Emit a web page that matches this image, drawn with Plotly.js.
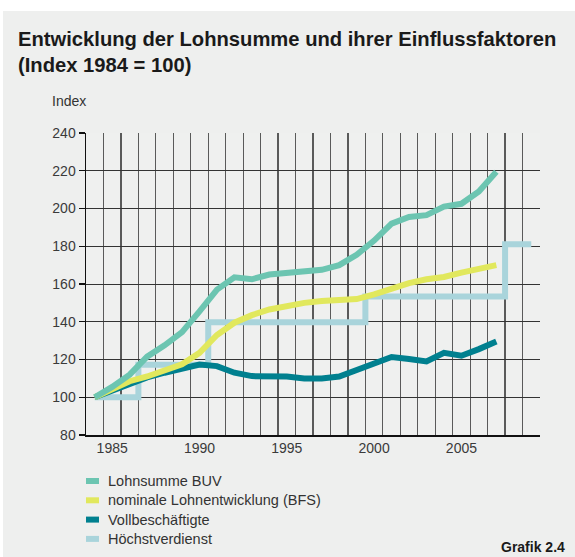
<!DOCTYPE html>
<html>
<head>
<meta charset="utf-8">
<script src="https://cdn.plot.ly/plotly-3.0.1.min.js"></script>
<style>
  html, body { margin: 0; padding: 0; background: #ffffff; }
  #bg { position: absolute; top: 11px; left: 3px; right: 0; bottom: 0; background: #eeefee; }
  #chart { position: absolute; top: 0; left: 0; width: 575px; height: 557px; }
</style>
</head>
<body>
<div id="bg"></div>
<div id="chart"></div>
<script>
// ---- data ----
const years = [1984,1985,1986,1987,1988,1989,1990,1991,1992,1993,1994,1995,1996,1997,1998,1999,2000,2001,2002,2003,2004,2005,2006,2007];
const lohnsummeBUV = [100,105.5,112,121.5,127.5,134.5,145.5,157,163.5,162.5,165,166,167,167.5,170,175.5,183,192,195.5,196.5,201,202.5,209,219.5];
const nominaleLohn = [100,104.5,108.5,111,114,117.5,123.5,133,139.5,143.5,146.5,148.5,150,151,151.5,152,154.5,157.5,160.5,162.5,163.7,166,168,170];
const vollbeschaeftigte = [100,103.5,107,110.5,113,115.5,117.3,116.5,113,111.2,111,111,110,110,111,114.5,118,121.3,120.3,119,123.5,122,125.5,129.5];
const hvYears = [1984,1985,1986,1987,1988,1989,1990,1991,1992,1993,1994,1995,1996,1997,1998,1999,2000,2001,2002,2003,2004,2005,2006,2007,2008,2009];
const hoechstverdienst = [100,100,100,117.2,117.2,117.2,117.2,139.7,139.7,139.7,139.7,139.7,139.7,139.7,139.7,139.7,153.4,153.4,153.4,153.4,153.4,153.4,153.4,153.4,181,181];
const seriesNames = ['Lohnsumme BUV','nominale Lohnentwicklung (BFS)','Vollbeschäftigte','Höchstverdienst'];
const seriesColors = ['#6cc5b1','#e1e85d','#00808f','#a9d4db'];
const xTickVals = [1985,1990,1995,2000,2005];
const xTickText = ['1985','1990','1995','2000','2005'];
const yTickVals = [80,100,120,140,160,180,200,220,240];

const FONT = 'Liberation Sans, Arial, Helvetica, sans-serif';
const W = 575, H = 557, ML = 86, MR = 35, MT = 133, MB = 122;
const PW = W - ML - MR, PH = H - MT - MB;
const px = v => (v - ML) / PW;          // page x -> paper x
const py = v => (H - MB - v) / PH;      // page y -> paper y

const traces = [
  {x: hvYears, y: hoechstverdienst, name: seriesNames[3], mode: 'lines', line: {color: seriesColors[3], width: 6, shape: 'hvh'}},
  {x: years, y: vollbeschaeftigte, name: seriesNames[2], mode: 'lines', line: {color: seriesColors[2], width: 6}},
  {x: years, y: nominaleLohn, name: seriesNames[1], mode: 'lines', line: {color: seriesColors[1], width: 6}},
  {x: years, y: lohnsummeBUV, name: seriesNames[0], mode: 'lines', line: {color: seriesColors[0], width: 6}}
];

// manual legend (swatch + label)
const legendShapes = [], legendAnn = [];
seriesNames.forEach((n, i) => {
  const cy = 481 + i * 19.3;
  legendShapes.push({type: 'rect', xref: 'paper', yref: 'paper', x0: px(86), x1: px(99), y0: py(cy + 3), y1: py(cy - 3),
    fillcolor: seriesColors[i], line: {width: 0}});
  legendAnn.push({text: n, xref: 'paper', yref: 'paper', x: px(106), y: py(cy), xanchor: 'left', yanchor: 'middle',
    showarrow: false, font: {size: 14.5, color: '#333'}});
});

const layout = {
  width: W, height: H,
  margin: {l: ML, r: MR, t: MT, b: MB},
  showlegend: false,
  paper_bgcolor: 'rgba(0,0,0,0)',
  plot_bgcolor: '#eff0ef',
  font: {family: FONT, color: '#333', size: 14},
  title: {
    text: 'Entwicklung der Lohnsumme und ihrer Einflussfaktoren<br>(Index 1984 = 100)',
    xref: 'container', yref: 'container', x: 18/W, xanchor: 'left', y: 1 - 46/H, yanchor: 'top',
    font: {family: FONT, size: 20.2, color: '#1a1a1a', weight: 'bold'}
  },
  xaxis: {
    range: [1983.5, 2009.5], tickvals: xTickVals, ticktext: xTickText,
    showgrid: false, zeroline: false, ticks: '',
    showline: true, linecolor: '#111', linewidth: 1.5,
    tickfont: {size: 14, color: '#3a3a3a'},
    minor: {tick0: 1983.5, dtick: 1, showgrid: true, gridcolor: '#5a5a5a', gridwidth: 1.2, ticks: ''},
    fixedrange: true
  },
  yaxis: {
    range: [80, 240], tickvals: yTickVals,
    showgrid: true, gridcolor: '#333', gridwidth: 1, zeroline: false,
    showline: true, linecolor: '#111', linewidth: 1.5,
    ticks: 'outside', ticklen: 6, tickcolor: '#111', tickwidth: 1.2,
    tickfont: {size: 14, color: '#3a3a3a'},
    fixedrange: true
  },
  shapes: legendShapes,
  annotations: [
    {text: 'Index', xref: 'paper', yref: 'paper', x: px(50), y: py(101), xanchor: 'left', yanchor: 'middle', showarrow: false, font: {size: 14, color: '#333'}},
    {text: 'Grafik 2.4', xref: 'paper', yref: 'paper', x: px(567), y: py(547), xanchor: 'right', yanchor: 'middle', showarrow: false, font: {size: 14, color: '#1a1a1a', weight: 'bold'}}
  ].concat(legendAnn)
};

Plotly.newPlot('chart', traces, layout, {staticPlot: true, displayModeBar: false});
</script>
</body>
</html>
